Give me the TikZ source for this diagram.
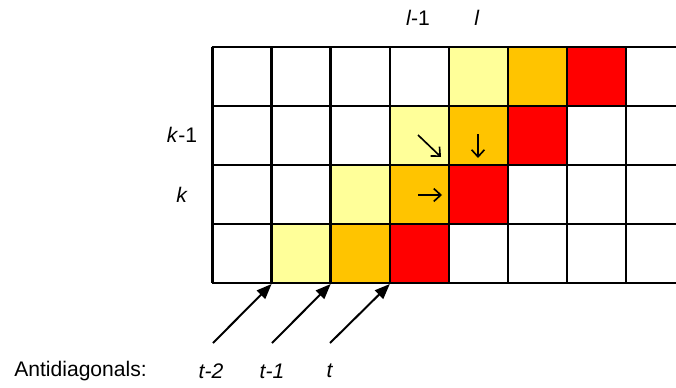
\documentclass[tikz,border=0pt]{standalone}
\usepackage{fontspec}
\setmainfont{Liberation Sans}
\usetikzlibrary{arrows.meta}
\definecolor{lyel}{HTML}{FFFF99}
\definecolor{oran}{HTML}{FFC400}
\definecolor{hot}{HTML}{FF0000}
\tikzset{
  lbl/.style={font=\fontsize{18}{21}\selectfont, inner sep=0pt},
  cellarrow/.style={line width=1.4pt, -{Straight Barb[length=6pt,width=11pt]}},
  diagarrow/.style={line width=1.7pt, -{Triangle[length=13pt,width=10pt]}}
}
\begin{document}
\begin{tikzpicture}[x=0.03cm,y=-0.03cm,line width=2.2pt]
\useasboundingbox (0,0) rectangle (676,387);
\def\cw{59.1}
\def\rh{59}
\begin{scope}
\clip (0,0) rectangle (676,387);
% coloured cells
\foreach \c/\r/\col in {4/0/lyel,5/0/oran,6/0/hot,
                        3/1/lyel,4/1/oran,5/1/hot,
                        2/2/lyel,3/2/oran,4/2/hot,
                        1/3/lyel,2/3/oran,3/3/hot}
  \fill[\col] (212.5+\cw*\c,47+\rh*\r) rectangle ++(\cw,\rh);
% grid
\foreach \c in {0,...,8}
  \draw (212.5+\cw*\c,47) -- ++(0,4*\rh);
\foreach \r in {0,...,4}
  \draw (211.5,47+\rh*\r) -- (700,47+\rh*\r);
\end{scope}
% labels
\node[lbl] (lm) at (418,18) {\textit{l}-1};
\node[lbl] (l) at (477,18) {\textit{l}};
\node[lbl] (km) at (182,135) {\textit{k}-1};
\node[lbl] (k) at (182,195) {\textit{k}};
\node[lbl,anchor=west] (anti) at (13,371) {Antidiagonals:};
\node[lbl] (t2) at (211,371) {\textit{t-2}};
\node[lbl] (t1) at (272,371) {\textit{t-1}};
\node[lbl] (t0) at (330,371) {\textit{t}};
% dependency arrows
\coordinate (dA) at (418,135); \coordinate (dB) at (441,157);
\coordinate (vA) at (478,134); \coordinate (vB) at (478,158);
\coordinate (hA) at (418,195); \coordinate (hB) at (442,195);
\draw[cellarrow] (dA) -- (dB);
\draw[cellarrow] (vA) -- (vB);
\draw[cellarrow] (hA) -- (hB);
% antidiagonal arrows
\coordinate (s2) at (213,343); \coordinate (e2) at (271.6,284);
\coordinate (s1) at (272,343); \coordinate (e1) at (330.7,284);
\coordinate (s0) at (330,343); \coordinate (e0) at (389.8,284);
\draw[diagarrow] (s2) -- (e2);
\draw[diagarrow] (s1) -- (e1);
\draw[diagarrow] (s0) -- (e0);
\end{tikzpicture}
\end{document}
